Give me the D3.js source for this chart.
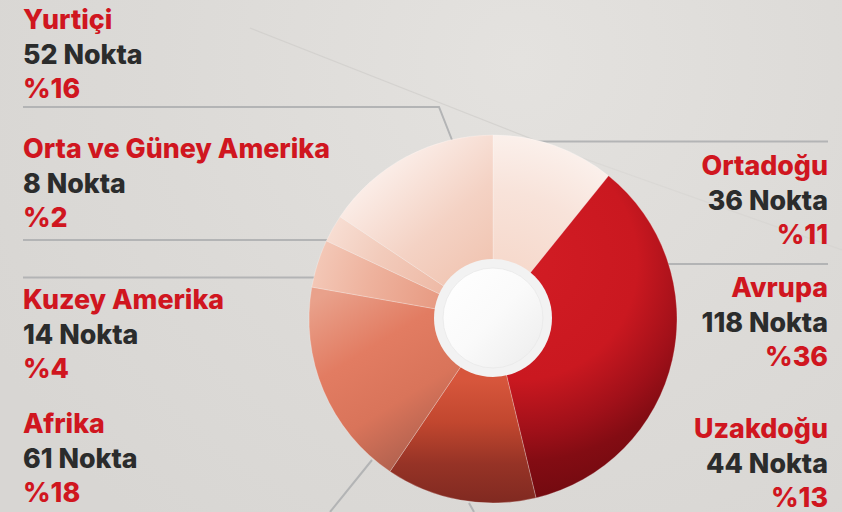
<!DOCTYPE html>
<html>
<head>
<meta charset="utf-8">
<script src="https://cdn.jsdelivr.net/npm/d3@7"></script>
<style>
html,body{margin:0;padding:0;background:#dcdad7;}
svg{display:block;}
</style>
</head>
<body>
<svg id="chart" width="842" height="512"></svg>
<script>
// ---- data ----
const regions = ["Ortadoğu", "Avrupa", "Uzakdoğu", "Afrika", "Kuzey Amerika", "Orta ve Güney Amerika", "Yurtiçi"];
const points  = [36, 118, 44, 61, 14, 8, 52];
const percents = [11, 36, 13, 18, 4, 2, 16];
const unitLabel = "Nokta";

// ---- layout (positions/styles, separate from data) ----
const W = 842, H = 512;
const cx = 493, cy = 319, R = 184;
const labelLayout = {
  "Yurtiçi":               {x: 23,  y: 29,  anchor: "start"},
  "Orta ve Güney Amerika": {x: 23,  y: 158, anchor: "start"},
  "Kuzey Amerika":         {x: 23,  y: 309, anchor: "start"},
  "Afrika":                {x: 23,  y: 433, anchor: "start"},
  "Ortadoğu":              {x: 828, y: 175, anchor: "end"},
  "Avrupa":                {x: 828, y: 297, anchor: "end"},
  "Uzakdoğu":              {x: 828, y: 438, anchor: "end"}
};
const lineStep = 34.7;
const RED = "#d0161f", DARK = "#2b2c2c";
const FONT = "Inter, Lato, 'Open Sans', sans-serif";

const svg = d3.select("#chart");
const defs = svg.append("defs");

// background
const bg = defs.append("radialGradient").attr("id","bg").attr("gradientUnits","userSpaceOnUse")
  .attr("cx",520).attr("cy",60).attr("r",600);
bg.append("stop").attr("offset",0).attr("stop-color","#e4e2df");
bg.append("stop").attr("offset",0.6).attr("stop-color","#dcdad7");
bg.append("stop").attr("offset",1).attr("stop-color","#d8d6d3");
svg.append("rect").attr("width",W).attr("height",H).attr("fill","url(#bg)");

// faint paper fold lines
const folds = [[[250,28],[560,150],0.55],[[560,150],[842,250],0.25]];
svg.append("g").selectAll("line").data(folds).join("line")
  .attr("x1",d=>d[0][0]).attr("y1",d=>d[0][1]).attr("x2",d=>d[1][0]).attr("y2",d=>d[1][1])
  .attr("stroke","#cbc9c6").attr("stroke-width",1.2).attr("opacity",d=>d[2]);

// leader / divider lines
const lineColor = "#b3b4b5";
const leaders = [
  [[23,107],[439,107],[452,140]],
  [[530,141.5],[828,141.5]],
  [[23,240],[330,240]],
  [[23,277.5],[316,277.5]],
  [[668,264],[828,264]],
  [[372,460],[330,512]],
  [[469,503],[474,512]]
];
svg.append("g").selectAll("path").data(leaders).join("path")
  .attr("d", d3.line())
  .attr("fill","none").attr("stroke",lineColor).attr("stroke-width",2);

// gradients for slices (absolute coordinates, shifted to pie-centred space)
function linGrad(id, x1,y1,x2,y2, stops){
  const g = defs.append("linearGradient").attr("id",id).attr("gradientUnits","userSpaceOnUse")
    .attr("x1",x1-cx).attr("y1",y1-cy).attr("x2",x2-cx).attr("y2",y2-cy);
  stops.forEach(s=>g.append("stop").attr("offset",s[0]).attr("stop-color",s[1]));
}
function radGrad(id, gx, gy, r, stops){
  const g = defs.append("radialGradient").attr("id",id).attr("gradientUnits","userSpaceOnUse")
    .attr("cx",gx-cx).attr("cy",gy-cy).attr("r",r);
  stops.forEach(s=>g.append("stop").attr("offset",s[0]).attr("stop-color",s[1]));
}
radGrad("g0", cx, cy, R, [[0.3,"#f6d9cc"],[0.7,"#f8e3da"],[1,"#fbf0eb"]]);
radGrad("g1", 520, 262, 235, [[0,"#d21c24"],[0.5,"#ca1820"],[0.72,"#a01019"],[0.85,"#830c13"],[1,"#740a10"]]);
linGrad("g2", cx,380, cx,500, [[0,"#d7563c"],[0.35,"#c2472f"],[0.7,"#963326"],[1,"#822a21"]]);
linGrad("g3", 315,300, 420,470, [[0,"#e9a18b"],[0.35,"#e27c62"],[0.65,"#d9745a"],[1,"#a85d4c"]]);
radGrad("g4", cx, cy, R, [[0.3,"#e79a82"],[0.7,"#eeb29d"],[1,"#f3c7b6"]]);
radGrad("g5", cx, cy, R, [[0.3,"#eeb9a5"],[0.7,"#f2cbbb"],[1,"#f7ddd2"]]);
linGrad("g6", 470,300, 360,170, [[0,"#f0c2ae"],[0.45,"#f4d2c4"],[1,"#fcf2ee"]]);

const pie = d3.pie().sort(null).value(d=>d.v).startAngle(0).endAngle(2*Math.PI);
const data = regions.map((r,i)=>({name:r, v:points[i], p:percents[i], i}));
const arcs = pie(data);
const arc = d3.arc().innerRadius(0).outerRadius(R);

const pieG = svg.append("g").attr("transform",`translate(${cx},${cy})`);
pieG.selectAll("path").data(arcs).join("path")
  .attr("d", arc)
  .attr("fill", d=>`url(#g${d.data.i})`)
  .attr("stroke","rgba(255,255,255,0.3)").attr("stroke-width",0.8);

// center disc
const cg = defs.append("linearGradient").attr("id","cg").attr("x1",0).attr("y1",0).attr("x2",1).attr("y2",1);
cg.append("stop").attr("offset",0).attr("stop-color","#ffffff");
cg.append("stop").attr("offset",0.5).attr("stop-color","#fafafa");
cg.append("stop").attr("offset",1).attr("stop-color","#ececec");
svg.append("circle").attr("cx",cx).attr("cy",cy-1).attr("r",59).attr("fill","#f2f2f2");
svg.append("circle").attr("cx",cx).attr("cy",cy-1).attr("r",50).attr("fill","url(#cg)")
  .attr("stroke","#e8e8e8").attr("stroke-width",0.8);

// labels
const lg = svg.append("g").style("font-family",FONT).style("font-weight",800);
const probe = lg.append("text").attr("font-size",24).text("Orta ve Güney Amerika");
const fs = 24 * 307 / probe.node().getComputedTextLength();
probe.remove();
data.forEach(d=>{
  const L = labelLayout[d.name];
  const g = lg.append("g").attr("text-anchor",L.anchor).attr("font-size",fs);
  g.append("text").attr("x",L.x).attr("y",L.y).attr("fill",RED).text(d.name);
  g.append("text").attr("x",L.x).attr("y",L.y+lineStep).attr("fill",DARK).text(`${d.v} ${unitLabel}`);
  g.append("text").attr("x",L.x).attr("y",L.y+2*lineStep).attr("fill",RED).text(`%${d.p}`);
});
</script>
</body>
</html>
